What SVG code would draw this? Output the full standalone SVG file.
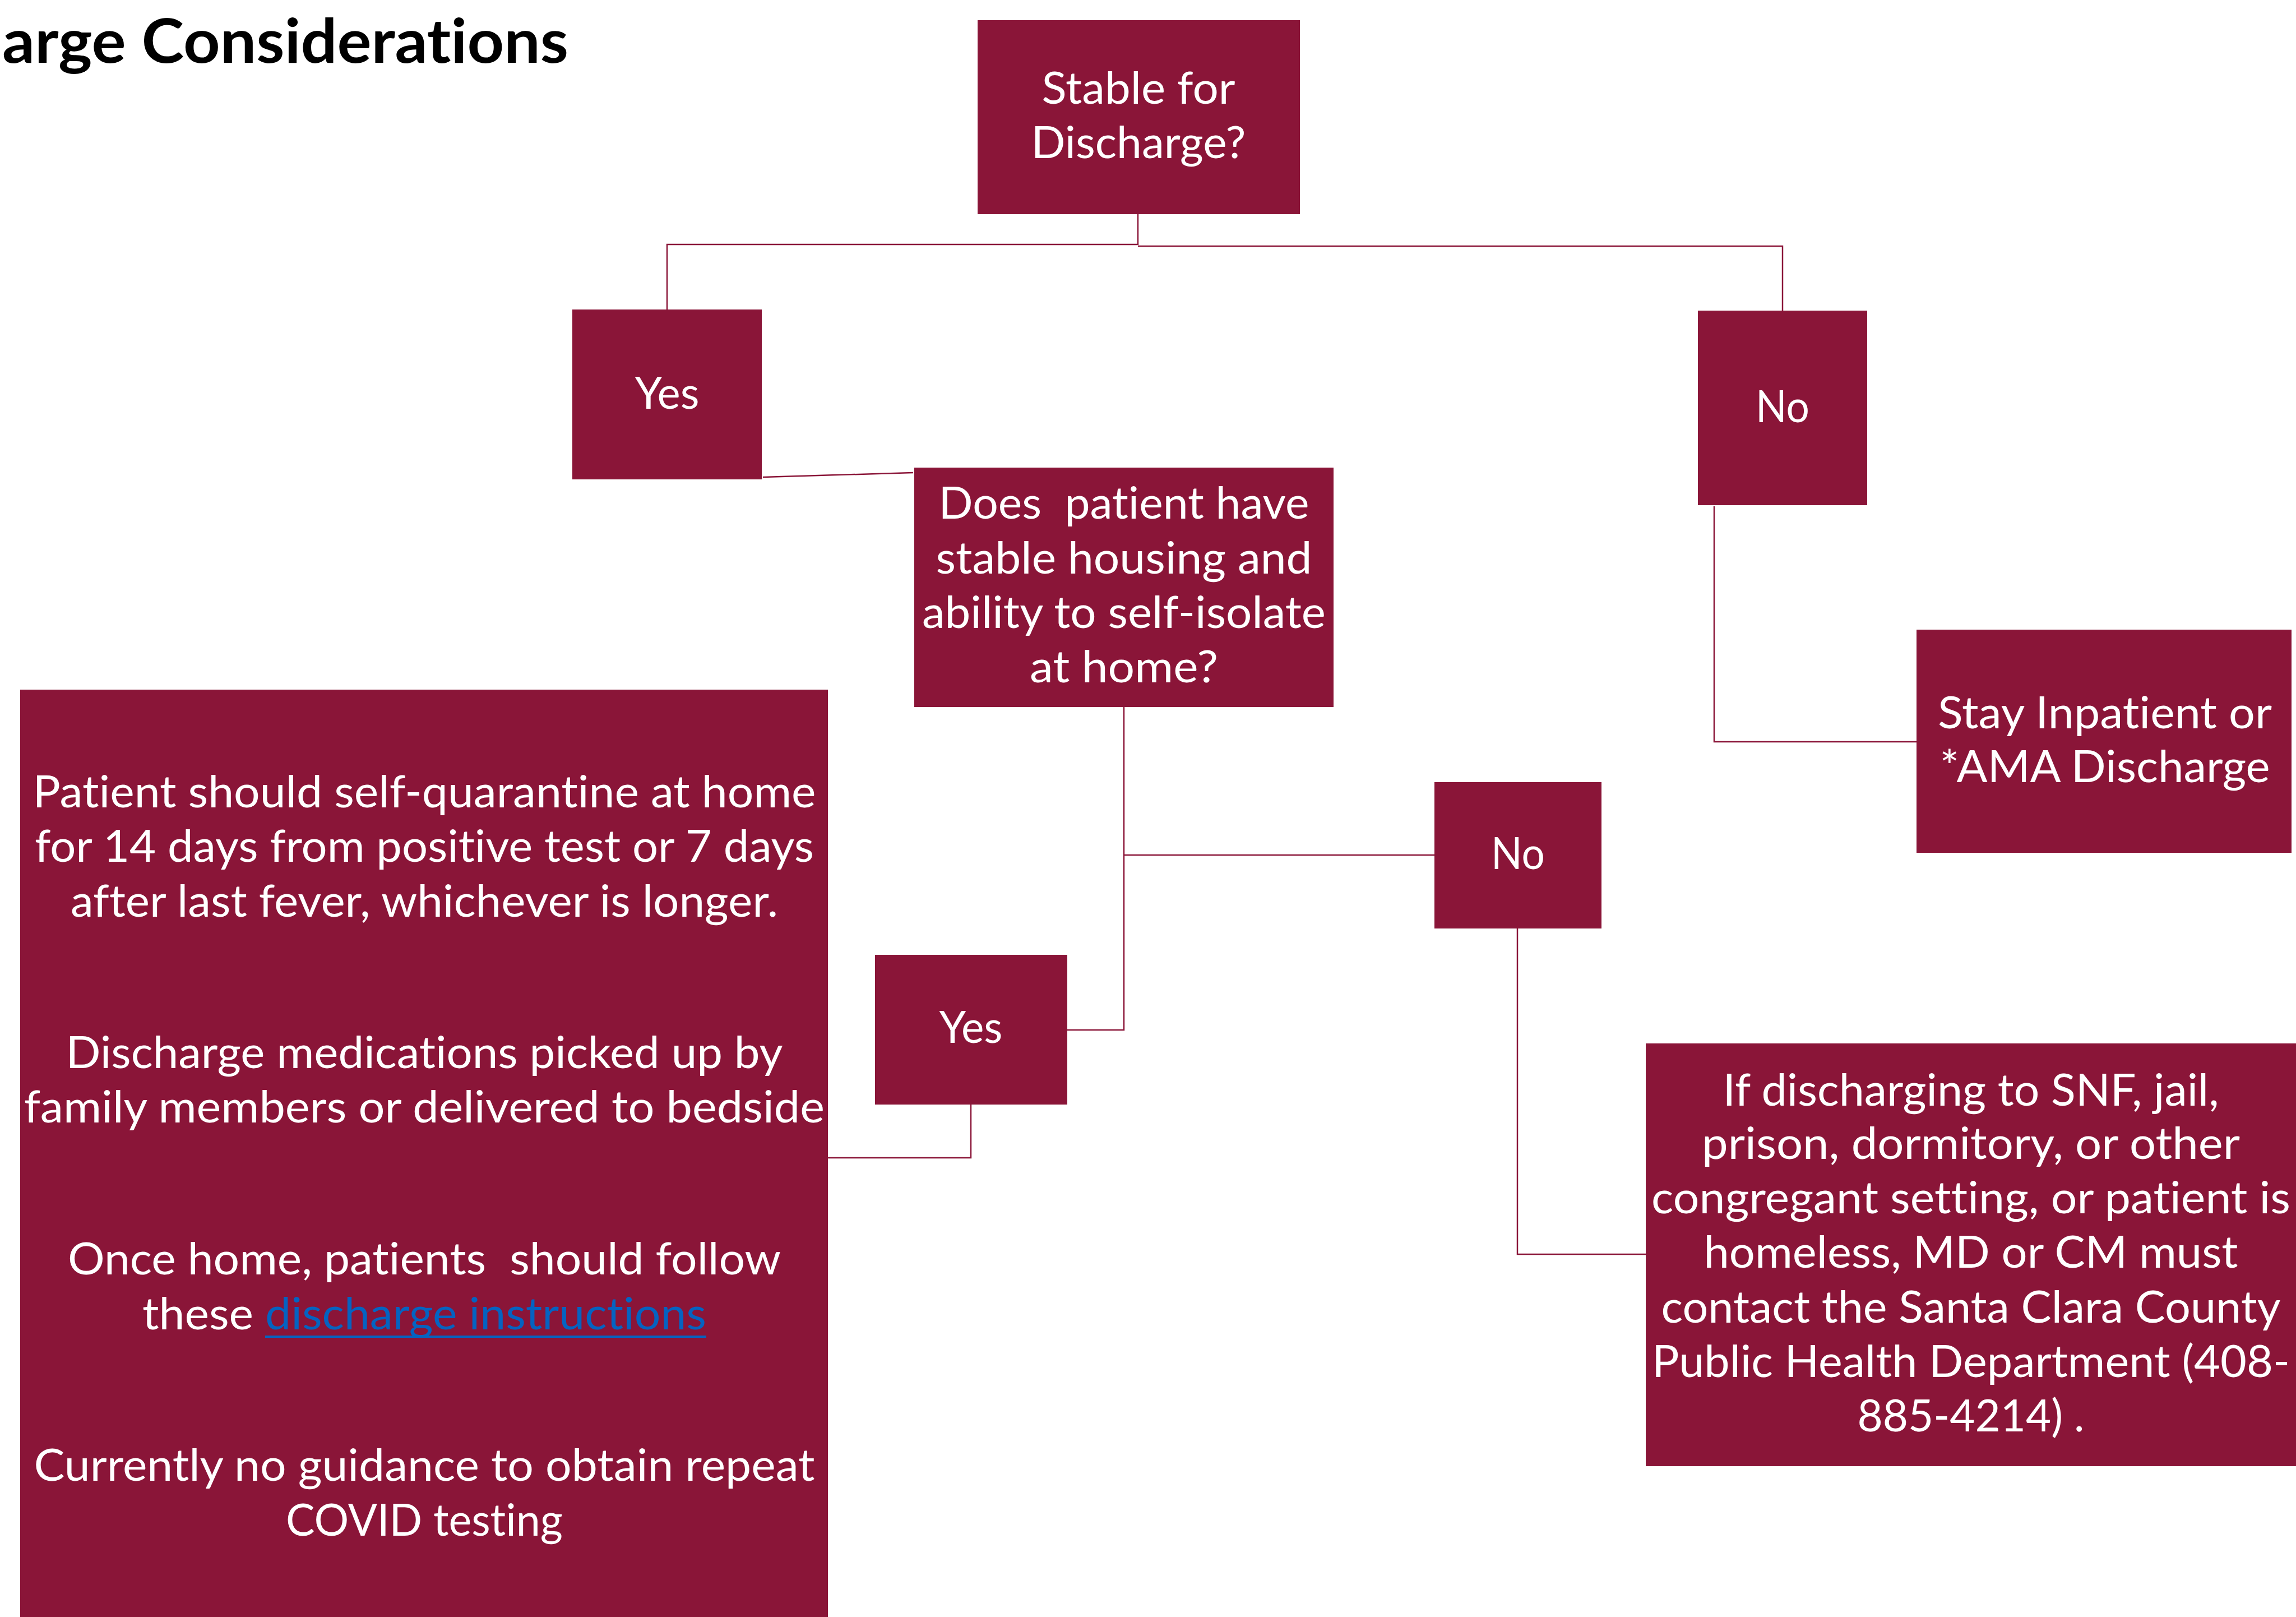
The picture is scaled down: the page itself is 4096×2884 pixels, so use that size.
<svg xmlns="http://www.w3.org/2000/svg" width="4096" height="2884" viewBox="0 0 4096 2884">
<style>
.box{fill:#8A1538;}
text{font-variant-ligatures:none;font-feature-settings:"liga" 0,"clig" 0,"dlig" 0;}
.t{font-family:Lato,"Open Sans","Liberation Sans",sans-serif;font-size:80px;fill:#FFFFFF;text-anchor:middle;}
.conn{fill:none;stroke:#8A1538;stroke-width:2.5;}
.title{font-family:Lato,"Open Sans","Liberation Sans",sans-serif;font-size:110px;font-weight:bold;fill:#000000;}
.link{fill:#0563C1;}
</style>
<rect width="4096" height="2884" fill="#FFFFFF"/>
<text class="title" x="4" y="112" textLength="1010" lengthAdjust="spacingAndGlyphs">arge Considerations</text>

<g id="connectors">
<path class="conn" d="M2030,382 V436 H1190 V552"/>
<path class="conn" d="M2030,439 H3180 V554"/>
<path class="conn" d="M1361,851 L1629,843"/>
<path class="conn" d="M3058,903 V1323 H3419"/>
<path class="conn" d="M2005,1261 V1837 H1904"/>
<path class="conn" d="M2005,1525 H2559"/>
<path class="conn" d="M1732,1970 V2065 H1477"/>
<path class="conn" d="M2707,1656 V2237 H2936"/>
</g>

<g id="stable">
<rect class="box" x="1744" y="36" width="575" height="346"/>
<text class="t" x="2031" y="185" textLength="345" lengthAdjust="spacingAndGlyphs">Stable for</text>
<text class="t" x="2031" y="282" textLength="383" lengthAdjust="spacingAndGlyphs">Discharge?</text>
</g>

<g id="yes1">
<rect class="box" x="1021" y="552" width="338" height="303"/>
<text class="t" x="1190" y="729" textLength="115" lengthAdjust="spacingAndGlyphs">Yes</text>
</g>

<g id="no1">
<rect class="box" x="3029" y="554" width="302" height="347"/>
<text class="t" x="3180" y="753" textLength="96" lengthAdjust="spacingAndGlyphs">No</text>
</g>

<g id="housing">
<rect class="box" x="1631" y="834" width="748" height="427"/>
<text class="t" x="2005" y="925" textLength="661" lengthAdjust="spacingAndGlyphs" xml:space="preserve">Does  patient have</text>
<text class="t" x="2005" y="1023" textLength="671" lengthAdjust="spacingAndGlyphs">stable housing and</text>
<text class="t" x="2005" y="1120" textLength="720" lengthAdjust="spacingAndGlyphs">ability to self-isolate</text>
<text class="t" x="2005" y="1217" textLength="336" lengthAdjust="spacingAndGlyphs">at home?</text>
</g>

<g id="stay">
<rect class="box" x="3419" y="1123" width="669" height="398"/>
<text class="t" x="3755" y="1299" textLength="596" lengthAdjust="spacingAndGlyphs">Stay Inpatient or</text>
<text class="t" x="3755" y="1395" textLength="589" lengthAdjust="spacingAndGlyphs">*AMA Discharge</text>
</g>

<g id="no2">
<rect class="box" x="2559" y="1395" width="298" height="261"/>
<text class="t" x="2708" y="1550" textLength="96" lengthAdjust="spacingAndGlyphs">No</text>
</g>

<g id="yes2">
<rect class="box" x="1561" y="1703" width="343" height="267"/>
<text class="t" x="1732" y="1860" textLength="113" lengthAdjust="spacingAndGlyphs">Yes</text>
</g>

<g id="home-instructions">
<rect class="box" x="36" y="1230" width="1441" height="1654"/>
<text class="t" x="757" y="1440" textLength="1397" lengthAdjust="spacingAndGlyphs">Patient should self-quarantine at home</text>
<text class="t" x="757" y="1537" textLength="1390" lengthAdjust="spacingAndGlyphs">for 14 days from positive test or 7 days</text>
<text class="t" x="757" y="1635" textLength="1262" lengthAdjust="spacingAndGlyphs">after last fever, whichever is longer.</text>
<text class="t" x="757" y="1905" textLength="1279" lengthAdjust="spacingAndGlyphs">Discharge medications picked up by</text>
<text class="t" x="757" y="2002" textLength="1428" lengthAdjust="spacingAndGlyphs">family members or delivered to bedside</text>
<text class="t" x="757" y="2273" textLength="1272" lengthAdjust="spacingAndGlyphs" xml:space="preserve">Once home, patients  should follow</text>
<text class="t" x="757" y="2371" textLength="1006" lengthAdjust="spacingAndGlyphs" xml:space="preserve">these <tspan class="link">discharge instructions</tspan></text>
<line x1="473" y1="2384" x2="1260" y2="2384" stroke="#0563C1" stroke-width="4"/>
<text class="t" x="757" y="2641" textLength="1393" lengthAdjust="spacingAndGlyphs">Currently no guidance to obtain repeat</text>
<text class="t" x="757" y="2739" textLength="494" lengthAdjust="spacingAndGlyphs">COVID testing</text>
</g>

<g id="congregate">
<rect class="box" x="2936" y="1861" width="1160" height="754"/>
<text class="t" x="3516" y="1972" textLength="885" lengthAdjust="spacingAndGlyphs">If discharging to SNF, jail,</text>
<text class="t" x="3516" y="2067" textLength="960" lengthAdjust="spacingAndGlyphs">prison, dormitory, or other</text>
<text class="t" x="3516" y="2164" textLength="1140" lengthAdjust="spacingAndGlyphs">congregant setting, or patient is</text>
<text class="t" x="3516" y="2261" textLength="953" lengthAdjust="spacingAndGlyphs">homeless, MD or CM must</text>
<text class="t" x="3516" y="2359" textLength="1105" lengthAdjust="spacingAndGlyphs">contact the Santa Clara County</text>
<text class="t" x="3516" y="2456" textLength="1138" lengthAdjust="spacingAndGlyphs">Public Health Department (408-</text>
<text class="t" x="3516" y="2553" textLength="405" lengthAdjust="spacingAndGlyphs">885-4214) .</text>
</g>
</svg>
